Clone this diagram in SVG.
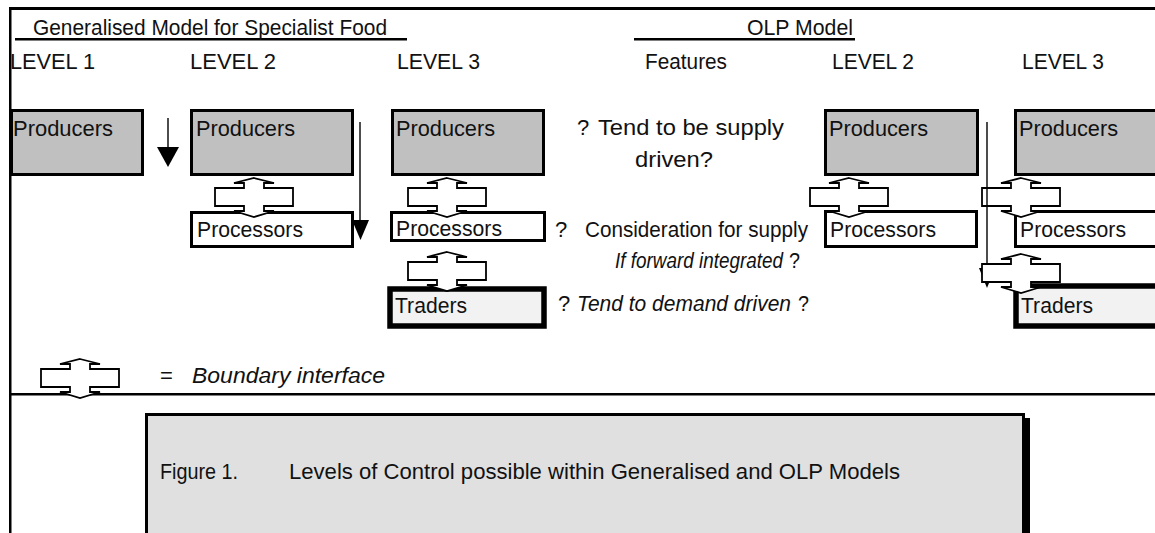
<svg xmlns="http://www.w3.org/2000/svg" xmlns:xlink="http://www.w3.org/1999/xlink" width="1155" height="533" viewBox="0 0 1155 533">
  <style>
    text { font-family: "Liberation Sans", Arial, sans-serif; font-size: 22px; fill: #111; }
    .it { font-style: italic; }
    .prod { fill: #c0c0c0; stroke: #000; stroke-width: 3; }
    .proc { fill: #fff; stroke: #000; stroke-width: 3; }
    .trad { fill: #f2f2f2; stroke: #000; stroke-width: 5.5; }
    .bi { fill: #fff; stroke: #000; stroke-width: 1.8; stroke-linejoin: miter; }
    .rule { fill: #000; }
    .wire { stroke: #000; stroke-width: 1.4; fill: none; }
    .head { fill: #000; }
  </style>
  <defs>
    <!-- boundary interface: box with flat arrowheads top and bottom, tip at (0,0) -->
    <path id="bi" class="bi" d="M0,0 L20,5 L10,5 L10,10 L39,10 L39,28 L10,28 L10,33 L20,33 L0,39 L-20,33 L-10,33 L-10,28 L-39,28 L-39,10 L-10,10 L-10,5 L-20,5 Z"/>
  </defs>

  <rect width="1155" height="533" fill="#fff"/>

  <!-- frame and rules -->
  <g id="frame">
    <rect class="rule" x="9" y="7" width="1146" height="3"/>
    <rect class="rule" x="9" y="7" width="2.5" height="526"/>
    <rect class="rule" x="9" y="393" width="1146" height="2.5"/>
    <rect class="rule" x="15" y="38" width="392" height="2.5"/>
    <rect class="rule" x="634" y="38" width="221" height="2.5"/>
  </g>

  <!-- headings -->
  <g id="headings">
    <text x="33" y="35" textLength="354" lengthAdjust="spacingAndGlyphs">Generalised Model for Specialist Food</text>
    <text x="747" y="35" textLength="106" lengthAdjust="spacingAndGlyphs">OLP Model</text>
    <text x="10" y="69" textLength="85" lengthAdjust="spacingAndGlyphs">LEVEL 1</text>
    <text x="190" y="69" textLength="86" lengthAdjust="spacingAndGlyphs">LEVEL 2</text>
    <text x="397" y="69" textLength="83" lengthAdjust="spacingAndGlyphs">LEVEL 3</text>
    <text x="645" y="69" textLength="82" lengthAdjust="spacingAndGlyphs">Features</text>
    <text x="832" y="69" textLength="82" lengthAdjust="spacingAndGlyphs">LEVEL 2</text>
    <text x="1022" y="69" textLength="82" lengthAdjust="spacingAndGlyphs">LEVEL 3</text>
  </g>

  <!-- generalised model -->
  <g id="gen-producers-l1">
    <rect class="prod" x="11.5" y="110.5" width="131" height="64"/>
    <text x="13" y="136" textLength="100" lengthAdjust="spacingAndGlyphs">Producers</text>
  </g>
  <g id="gen-producers-l2">
    <rect class="prod" x="191.5" y="110.5" width="161" height="64"/>
    <text x="196" y="136" textLength="99" lengthAdjust="spacingAndGlyphs">Producers</text>
  </g>
  <g id="gen-producers-l3">
    <rect class="prod" x="392.5" y="110.5" width="151" height="64"/>
    <text x="396" y="136" textLength="99" lengthAdjust="spacingAndGlyphs">Producers</text>
  </g>
  <g id="gen-processors-l2">
    <rect class="proc" x="191.5" y="212.5" width="161" height="34"/>
    <text x="197" y="237" textLength="106" lengthAdjust="spacingAndGlyphs">Processors</text>
  </g>
  <g id="gen-processors-l3">
    <rect class="proc" x="391.5" y="212.5" width="153" height="28"/>
    <text x="396" y="236" textLength="106" lengthAdjust="spacingAndGlyphs">Processors</text>
  </g>
  <g id="gen-traders-l3">
    <rect class="trad" x="390" y="289" width="154" height="37"/>
    <text x="395" y="313" textLength="72" lengthAdjust="spacingAndGlyphs">Traders</text>
  </g>
  <g id="gen-interface-1"><use xlink:href="#bi" x="254" y="178"/></g>
  <g id="gen-interface-2"><use xlink:href="#bi" x="447" y="178"/></g>
  <g id="gen-interface-3"><use xlink:href="#bi" x="447" y="252"/></g>

  <!-- features column -->
  <g id="features">
    <text x="577" y="135">?</text>
    <text x="598" y="135" textLength="186" lengthAdjust="spacingAndGlyphs">Tend to be supply</text>
    <text x="635" y="167" textLength="78" lengthAdjust="spacingAndGlyphs">driven?</text>
    <text x="555" y="237">?</text>
    <text x="585" y="237" textLength="223" lengthAdjust="spacingAndGlyphs">Consideration for supply</text>
    <text class="it" x="615" y="268" textLength="168" lengthAdjust="spacingAndGlyphs">If forward integrated</text>
    <text x="789" y="268" textLength="11" lengthAdjust="spacingAndGlyphs">?</text>
    <text x="558" y="311">?</text>
    <text class="it" x="577" y="311" textLength="214" lengthAdjust="spacingAndGlyphs">Tend to demand driven</text>
    <text x="798" y="311" textLength="11" lengthAdjust="spacingAndGlyphs">?</text>
  </g>

  <!-- OLP model -->
  <g id="olp-producers-l2">
    <rect class="prod" x="825.5" y="110.5" width="152" height="64"/>
    <text x="829" y="136" textLength="99" lengthAdjust="spacingAndGlyphs">Producers</text>
  </g>
  <g id="olp-producers-l3">
    <rect class="prod" x="1015.5" y="110.5" width="160" height="64"/>
    <text x="1019" y="136" textLength="99" lengthAdjust="spacingAndGlyphs">Producers</text>
  </g>
  <g id="olp-processors-l2">
    <rect class="proc" x="825.5" y="211.5" width="151" height="35"/>
    <text x="830" y="237" textLength="106" lengthAdjust="spacingAndGlyphs">Processors</text>
  </g>
  <g id="olp-processors-l3">
    <rect class="proc" x="1015.5" y="211.5" width="160" height="35"/>
    <text x="1020" y="237" textLength="106" lengthAdjust="spacingAndGlyphs">Processors</text>
  </g>
  <g id="olp-traders-l3">
    <rect class="trad" x="1016" y="286" width="200" height="40"/>
    <text x="1021" y="313" textLength="72" lengthAdjust="spacingAndGlyphs">Traders</text>
  </g>
  <g id="olp-interface-1"><use xlink:href="#bi" x="849" y="178"/></g>
  <g id="olp-interface-2"><use xlink:href="#bi" x="1021" y="178"/></g>

  <!-- control arrows -->
  <g id="connectors">
    <line class="wire" x1="168" y1="118" x2="168" y2="148"/>
    <polygon class="head" points="157,147 179,147 168,167"/>
    <line class="wire" x1="360" y1="122" x2="360" y2="221"/>
    <polygon class="head" points="352,220 369,220 360.5,240"/>
    <line class="wire" x1="987" y1="122" x2="987" y2="270"/>
    <polygon class="head" points="979,268 995,268 987,288"/>
  </g>

  <g id="olp-interface-3"><use xlink:href="#bi" x="1021" y="254"/></g>

  <!-- legend -->
  <g id="legend">
    <use xlink:href="#bi" x="80" y="359"/>
    <text x="160" y="383" font-size="16">=</text>
    <text class="it" x="192" y="383" textLength="193" lengthAdjust="spacingAndGlyphs">Boundary interface</text>
  </g>

  <!-- caption -->
  <g id="caption">
    <rect x="150" y="418" width="880" height="130" fill="#000"/>
    <rect x="146.5" y="414.5" width="877" height="130" fill="#e0e0e0" stroke="#000" stroke-width="3"/>
    <text x="160" y="479" font-size="21" textLength="78" lengthAdjust="spacingAndGlyphs">Figure 1.</text>
    <text x="289" y="479" font-size="21" textLength="611" lengthAdjust="spacingAndGlyphs">Levels of Control possible within Generalised and OLP Models</text>
  </g>
</svg>
